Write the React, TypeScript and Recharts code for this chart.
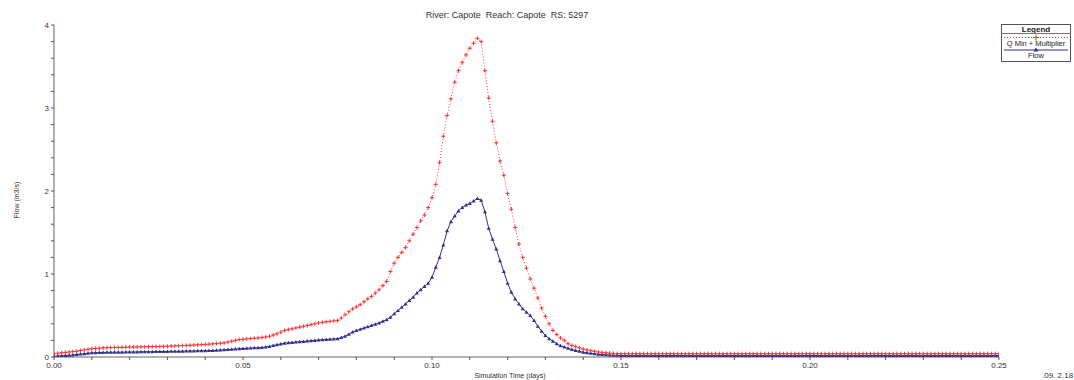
import React from 'react';
import { LineChart, Line, XAxis, YAxis } from 'recharts';

// Simulation output sampled every 0.001 day, from 0.000 to 0.250
const Q_MIN_MULT: number[] = [
  0.04, 0.045, 0.05, 0.055, 0.06, 0.065, 0.07, 0.078, 0.085, 0.092,
  0.10, 0.103, 0.106, 0.11, 0.112, 0.113, 0.114, 0.115, 0.116, 0.118,
  0.119, 0.12, 0.121, 0.122, 0.123, 0.124, 0.125, 0.126, 0.127, 0.128,
  0.13, 0.132, 0.134, 0.136, 0.138, 0.14, 0.142, 0.144, 0.146, 0.15,
  0.152, 0.155, 0.158, 0.162, 0.166, 0.17, 0.18, 0.19, 0.2, 0.21,
  0.214, 0.218, 0.222, 0.226, 0.23, 0.235, 0.24, 0.25, 0.265, 0.28,
  0.3, 0.32, 0.33, 0.34, 0.35, 0.36, 0.37, 0.38, 0.39, 0.4,
  0.41, 0.418, 0.425, 0.43, 0.435, 0.44, 0.47, 0.51, 0.545, 0.58,
  0.605, 0.63, 0.665, 0.7, 0.73, 0.77, 0.81, 0.86, 0.91, 1.03,
  1.13, 1.2, 1.26, 1.32, 1.4, 1.48, 1.56, 1.64, 1.71, 1.8,
  1.92, 2.08, 2.34, 2.66, 2.91, 3.11, 3.31, 3.45, 3.55, 3.64,
  3.72, 3.78, 3.84, 3.8, 3.45, 3.12, 2.84, 2.58, 2.36, 2.19,
  1.97, 1.78, 1.56, 1.36, 1.2, 1.07, 0.94, 0.83, 0.71, 0.59,
  0.49, 0.4, 0.32, 0.27, 0.23, 0.2, 0.16, 0.14, 0.125, 0.11,
  0.095, 0.085, 0.077, 0.068, 0.06, 0.055, 0.05, 0.046, 0.043, 0.041,
  0.04, 0.04, 0.04, 0.04, 0.04, 0.04, 0.04, 0.04, 0.04, 0.04,
  0.04, 0.04, 0.04, 0.04, 0.04, 0.04, 0.04, 0.04, 0.04, 0.04,
  0.04, 0.04, 0.04, 0.04, 0.04, 0.04, 0.04, 0.04, 0.04, 0.04,
  0.04, 0.04, 0.04, 0.04, 0.04, 0.04, 0.04, 0.04, 0.04, 0.04,
  0.04, 0.04, 0.04, 0.04, 0.04, 0.04, 0.04, 0.04, 0.04, 0.04,
  0.04, 0.04, 0.04, 0.04, 0.04, 0.04, 0.04, 0.04, 0.04, 0.04,
  0.04, 0.04, 0.04, 0.04, 0.04, 0.04, 0.04, 0.04, 0.04, 0.04,
  0.04, 0.04, 0.04, 0.04, 0.04, 0.04, 0.04, 0.04, 0.04, 0.04,
  0.04, 0.04, 0.04, 0.04, 0.04, 0.04, 0.04, 0.04, 0.04, 0.04,
  0.04, 0.04, 0.04, 0.04, 0.04, 0.04, 0.04, 0.04, 0.04, 0.04,
  0.04,
];

const FLOW: number[] = [
  0.01, 0.012, 0.015, 0.018, 0.02, 0.025, 0.03, 0.035, 0.04, 0.045,
  0.05, 0.052, 0.054, 0.055, 0.056, 0.057, 0.057, 0.058, 0.058, 0.059,
  0.06, 0.06, 0.061, 0.062, 0.063, 0.063, 0.064, 0.065, 0.066, 0.066,
  0.067, 0.068, 0.068, 0.069, 0.07, 0.071, 0.072, 0.073, 0.074, 0.075,
  0.076, 0.077, 0.078, 0.08, 0.083, 0.086, 0.09, 0.093, 0.096, 0.1,
  0.102, 0.105, 0.107, 0.11, 0.112, 0.115, 0.12, 0.128, 0.138, 0.148,
  0.158, 0.167, 0.172, 0.176, 0.18, 0.184, 0.188, 0.192, 0.196, 0.2,
  0.205, 0.208, 0.211, 0.214, 0.217, 0.22, 0.235, 0.25, 0.275, 0.3,
  0.318, 0.335, 0.35, 0.365, 0.38, 0.395, 0.41, 0.43, 0.45, 0.48,
  0.52, 0.56, 0.6, 0.64, 0.68, 0.72, 0.77, 0.81, 0.85, 0.89,
  0.96, 1.08, 1.2, 1.35, 1.52, 1.63, 1.7, 1.76, 1.8, 1.83,
  1.85, 1.88, 1.91, 1.89, 1.75, 1.55, 1.42, 1.3, 1.16, 1.03,
  0.89, 0.78, 0.7, 0.64, 0.58, 0.54, 0.5, 0.44, 0.37, 0.31,
  0.26, 0.22, 0.19, 0.16, 0.135, 0.12, 0.105, 0.09, 0.078, 0.068,
  0.058, 0.05, 0.044, 0.038, 0.033, 0.029, 0.026, 0.023, 0.021, 0.02,
  0.018, 0.018, 0.018, 0.018, 0.018, 0.018, 0.018, 0.018, 0.018, 0.018,
  0.018, 0.018, 0.018, 0.018, 0.018, 0.018, 0.018, 0.018, 0.018, 0.018,
  0.018, 0.018, 0.018, 0.018, 0.018, 0.018, 0.018, 0.018, 0.018, 0.018,
  0.018, 0.018, 0.018, 0.018, 0.018, 0.018, 0.018, 0.018, 0.018, 0.018,
  0.018, 0.018, 0.018, 0.018, 0.018, 0.018, 0.018, 0.018, 0.018, 0.018,
  0.018, 0.018, 0.018, 0.018, 0.018, 0.018, 0.018, 0.018, 0.018, 0.018,
  0.018, 0.018, 0.018, 0.018, 0.018, 0.018, 0.018, 0.018, 0.018, 0.018,
  0.018, 0.018, 0.018, 0.018, 0.018, 0.018, 0.018, 0.018, 0.018, 0.018,
  0.018, 0.018, 0.018, 0.018, 0.018, 0.018, 0.018, 0.018, 0.018, 0.018,
  0.018, 0.018, 0.018, 0.018, 0.018, 0.018, 0.018, 0.018, 0.018, 0.018,
  0.018,
];

const X_TICKS: number[] = [
  0, 0.01, 0.02, 0.03, 0.04, 0.05, 0.06, 0.07, 0.08, 0.09,
  0.1, 0.11, 0.12, 0.13, 0.14, 0.15, 0.16, 0.17, 0.18, 0.19,
  0.2, 0.21, 0.22, 0.23, 0.24, 0.25,
];
const X_LABELS: number[] = [0, 0.05, 0.1, 0.15, 0.2, 0.25];
const Y_TICKS: number[] = [
  0, 0.2, 0.4, 0.6, 0.8, 1, 1.2, 1.4, 1.6, 1.8, 2,
  2.2, 2.4, 2.6, 2.8, 3, 3.2, 3.4, 3.6, 3.8, 4,
];
const Y_LABELS: number[] = [0, 1, 2, 3, 4];

const TITLE = 'River: Capote  Reach: Capote  RS: 5297';
const X_TITLE = 'Simulation Time (days)';
const Y_TITLE = 'Flow (m3/s)';
const SERIES_NAMES = ['Q Min + Multiplier', 'Flow'];

const data = Q_MIN_MULT.map((q, i) => ({ t: i / 1000, q, flow: FLOW[i] }));

const RED = '#ff3030';
const BLUE = '#30308f';
const FONT = '"Liberation Sans", Arial, sans-serif';

const PlusDot = (props: any) => {
  const { cx, cy, index } = props;
  if (cx == null || cy == null) return <g key={`p${index}`} />;
  return (
    <path
      key={`p${index}`}
      d={`M${cx - 2},${cy}h4M${cx},${cy - 2}v4`}
      stroke={RED}
      strokeWidth={1}
      fill="none"
    />
  );
};

const TriDot = (props: any) => {
  const { cx, cy, index } = props;
  if (cx == null || cy == null) return <g key={`t${index}`} />;
  return (
    <path
      key={`t${index}`}
      d={`M${cx},${cy - 2}L${cx + 2},${cy + 1.5}L${cx - 2},${cy + 1.5}Z`}
      fill={BLUE}
    />
  );
};

const xFmt = (v: number) =>
  X_LABELS.some((l) => Math.abs(l - v) < 1e-6) ? v.toFixed(2) : '';
const yFmt = (v: number) =>
  Y_LABELS.some((l) => Math.abs(l - v) < 1e-6) ? String(Math.round(v)) : '';

export default function App() {
  return (
    <div style={{ position: 'absolute', left: 0, top: 0, width: 1074, height: 380, background: '#fff' }}>
      <LineChart
        width={1074}
        height={380}
        data={data}
        margin={{ top: 25, right: 75, bottom: 2, left: 0 }}
      >
        <XAxis
          dataKey="t"
          type="number"
          domain={[0, 0.25]}
          ticks={X_TICKS}
          tickFormatter={xFmt}
          interval={0}
          height={21}
          tickSize={3}
          axisLine={{ stroke: '#999', strokeWidth: 1.5 }}
          tickLine={{ stroke: '#555' }}
          tick={{ fontSize: 8, fill: '#333', fontFamily: FONT }}
          allowDataOverflow
        />
        <YAxis
          type="number"
          domain={[0, 4]}
          ticks={Y_TICKS}
          tickFormatter={yFmt}
          interval={0}
          width={54}
          tickSize={3}
          axisLine={{ stroke: '#999', strokeWidth: 1.5 }}
          tickLine={{ stroke: '#555' }}
          tick={{ fontSize: 8, fill: '#333', fontFamily: FONT }}
          allowDataOverflow
        />
        <Line
          dataKey="flow"
          name={SERIES_NAMES[1]}
          stroke={BLUE}
          strokeWidth={1}
          type="linear"
          dot={TriDot}
          activeDot={false}
          isAnimationActive={false}
        />
        <Line
          dataKey="q"
          name={SERIES_NAMES[0]}
          stroke={RED}
          strokeWidth={1}
          strokeDasharray="1 2"
          type="linear"
          dot={PlusDot}
          activeDot={false}
          isAnimationActive={false}
        />
      </LineChart>
      <svg
        width={1074}
        height={380}
        style={{ position: 'absolute', left: 0, top: 0, pointerEvents: 'none' }}
        fontFamily={FONT}
      >
        <text x={507} y={18} fontSize={9} fill="#333" textAnchor="middle" style={{ whiteSpace: 'pre' }}>
          {TITLE}
        </text>
        <text
          x={19}
          y={200}
          fontSize={7}
          fill="#333"
          textAnchor="middle"
          transform="rotate(-90 19 200)"
        >
          {Y_TITLE}
        </text>
        <text x={510} y={378} fontSize={7} fill="#333" textAnchor="middle">
          {X_TITLE}
        </text>
        <text x={1042} y={378} fontSize={8} fill="#333">
          .09. 2.18
        </text>
        <g>
          <rect x={1001.5} y={24.5} width={69} height={37} fill="#fff" stroke="#555" strokeWidth={1} />
          <text x={1036} y={31.5} fontSize={8} fontWeight="bold" fill="#222" textAnchor="middle">
            Legend
          </text>
          <line x1={1001.5} y1={33.5} x2={1070.5} y2={33.5} stroke="#777" strokeWidth={1} />
          <line x1={1004} y1={37.5} x2={1068} y2={37.5} stroke={RED} strokeWidth={1} strokeDasharray="1 2" />
          <path d="M1033,37.5h6M1036,34.5v6" stroke={RED} strokeWidth={1} fill="none" />
          <text x={1036} y={45.5} fontSize={7.5} fill="#222" textAnchor="middle">
            {SERIES_NAMES[0]}
          </text>
          <line x1={1004} y1={50} x2={1068} y2={50} stroke={BLUE} strokeWidth={1} />
          <path d="M1036,47.5L1038.5,51.5L1033.5,51.5Z" fill={BLUE} />
          <text x={1036} y={57.5} fontSize={7.5} fill="#222" textAnchor="middle">
            {SERIES_NAMES[1]}
          </text>
        </g>
      </svg>
    </div>
  );
}
